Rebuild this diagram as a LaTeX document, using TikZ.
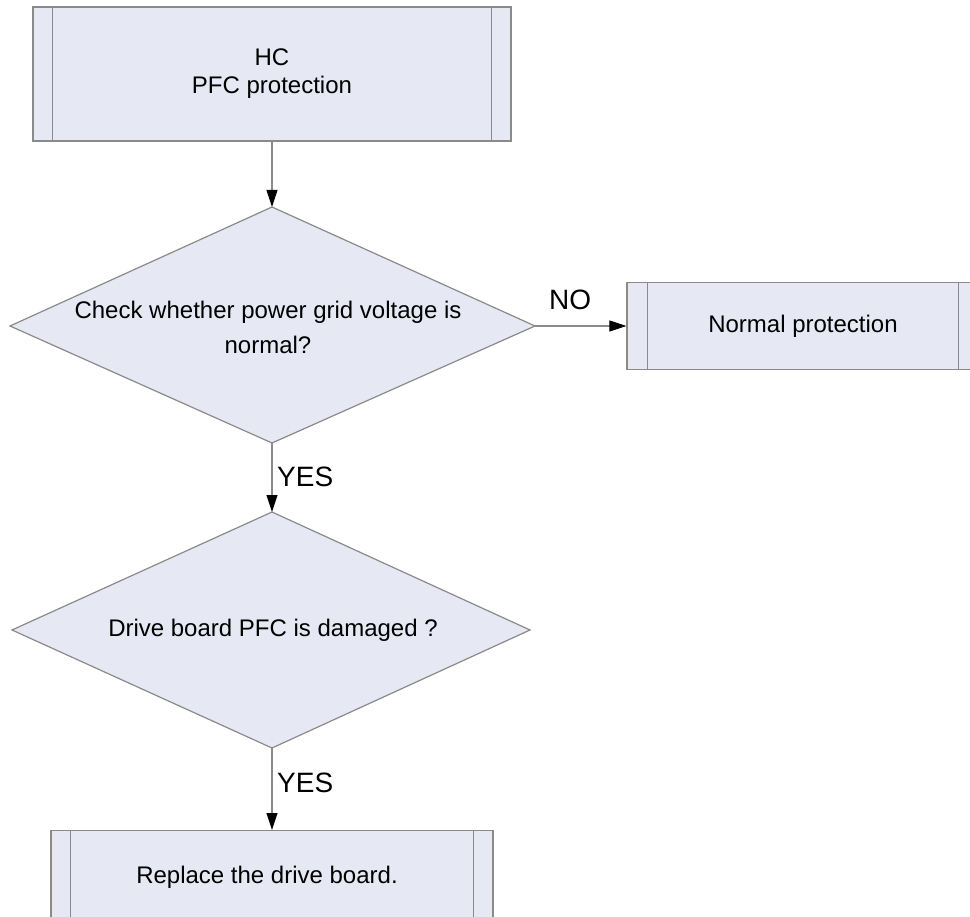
\documentclass[tikz,border=0pt]{standalone}
\usepackage{fontspec}
\setmainfont{Liberation Sans}
\usetikzlibrary{shapes.geometric,arrows.meta,calc}
\definecolor{boxfill}{HTML}{E6E9F4}
\definecolor{edge}{HTML}{8A8A8A}
\tikzset{
  procbox/.style={draw=edge, fill=boxfill, line width=1.2pt, rectangle, inner sep=0pt, align=center, font=\fontsize{24}{28}\selectfont},
  bodytext/.style={inner sep=0pt, align=center, font=\fontsize{24}{35}\selectfont},
  sideline/.style={draw=edge, line width=1.2pt},
  conn/.style={draw=edge, line width=1.1pt, -{Triangle[length=17pt,width=11pt,black]}},
  lbl/.style={font=\fontsize{28}{30}\selectfont, inner sep=0pt}
}
\begin{document}
\begin{tikzpicture}[x=1pt,y=-1pt]
\useasboundingbox (0,0) rectangle (970,917);
\clip (0,0) rectangle (970,917);
\fill[white] (0,0) rectangle (970,917);

% top box
\node[procbox, minimum width=478pt, minimum height=134pt] (hc) at (272,74) {HC\\PFC protection};
\draw[sideline] ($(hc.north west)+(20,0)$) -- ($(hc.south west)+(20,0)$);
\draw[sideline] ($(hc.north east)+(-20,0)$) -- ($(hc.south east)+(-20,0)$);

% decision 1
\draw[edge, fill=boxfill, line width=1.2pt] (272,207) coordinate (d1t) -- (535,326) coordinate (d1r) -- (272,443) coordinate (d1b) -- (10,326) -- cycle;
\node[bodytext] (d1) at (268,327) {Check whether power grid voltage is\\normal?};

% normal protection box
\node[procbox, minimum width=352pt, minimum height=87pt] (np) at (803,326) {Normal protection};
\draw[sideline] ($(np.north west)+(21,0)$) -- ($(np.south west)+(21,0)$);
\draw[sideline] ($(np.north east)+(-21,0)$) -- ($(np.south east)+(-21,0)$);

% decision 2
\draw[edge, fill=boxfill, line width=1.2pt] (272,512) coordinate (d2t) -- (530,630) -- (272,748) coordinate (d2b) -- (12,630) -- cycle;
\node[bodytext] (d2) at (273,630) {Drive board PFC is damaged ?};

% bottom box
\node[procbox, minimum width=442pt, minimum height=100pt, anchor=north] (rep) at (272,830) {};
\node[bodytext] (reptext) at (267,877) {Replace the drive board.};
\draw[sideline] ($(rep.north west)+(20,0)$) -- ($(rep.south west)+(20,0)$);
\draw[sideline] ($(rep.north east)+(-20,0)$) -- ($(rep.south east)+(-20,0)$);

% connectors
\draw[conn] (hc.south) -- (d1t);
\draw[conn] (d1r) -- (np.west);
\draw[conn] (d1b) -- (d2t);
\draw[conn] (d2b) -- (rep.north);

% labels
\node[lbl, anchor=west] (no) at (549,300) {NO};
\node[lbl, anchor=west] (yes1) at (277,477) {YES};
\node[lbl, anchor=west] (yes2) at (277,783) {YES};
\end{tikzpicture}
\end{document}
